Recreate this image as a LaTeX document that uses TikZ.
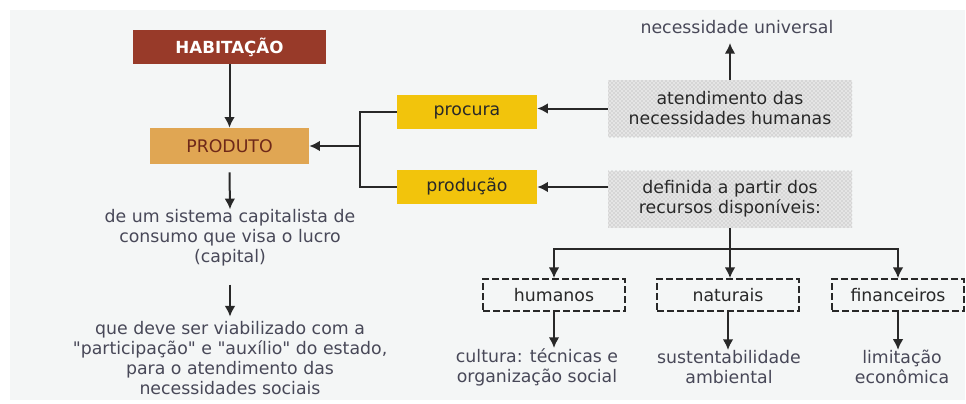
\documentclass[tikz,border=0pt]{standalone}
\usepackage{fontspec}
\setmainfont{DejaVu Sans}[Ligatures=TeXOff]
\usetikzlibrary{arrows.meta}
\usetikzlibrary{patterns}

\definecolor{habcor}{RGB}{152,58,41}
\definecolor{prodcor}{RGB}{224,166,83}
\definecolor{prodtexto}{RGB}{110,40,25}
\definecolor{amarelo}{RGB}{242,196,12}
\definecolor{fundo}{RGB}{244,246,246}
\definecolor{textocor}{RGB}{72,72,88}
\definecolor{setacor}{RGB}{40,40,40}

\tikzset{
  caixa/.style={inner sep=0pt, align=center, font=\fontsize{13}{15}\selectfont},
  texto/.style={caixa, text=textocor},
  pontos/.style={caixa, text=setacor, minimum width=183pt, minimum height=42.75pt,
    preaction={fill=gray!20}, pattern=crosshatch dots, pattern color=gray!70},
  tracejada/.style={caixa, text=setacor, minimum width=106.5pt, minimum height=24pt,
    draw=setacor, line width=1.3pt, dash pattern=on 5pt off 2.5pt},
  seta/.style={draw=setacor, line width=1.5pt, -{Latex[length=8pt,width=8pt]}},
  linha/.style={draw=setacor, line width=1.5pt}
}

\begin{document}
\begin{tikzpicture}[x=0.75pt,y=0.75pt,yscale=-1,xscale=1]
\useasboundingbox (0,0) rectangle (966,403);
%Background
\fill [fundo] (10,10) rectangle (965,400);

% Main boxes
\node [caixa, fill=habcor, text=white, font=\fontsize{12.5}{15}\selectfont\bfseries,
  minimum width=144.75pt, minimum height=25.5pt] (hab) at (229.5,47) {HABITAÇÃO};
\node [caixa, fill=prodcor, text=prodtexto, minimum width=119.25pt, minimum height=27pt] (prod) at (229.5,146) {PRODUTO};
\node [caixa, fill=amarelo, text=setacor, minimum width=105pt, minimum height=25.5pt] (procura) at (467,112) {procura};
\node [caixa, fill=amarelo, text=setacor, minimum width=105pt, minimum height=25.5pt] (producao) at (467,187) {produção};
\node [pontos] (atend) at (730,108.5) {atendimento das\\necessidades humanas};
\node [pontos] (defin) at (730,199) {definida a partir dos\\recursos disponíveis:};

% Text Node
\node [texto] (univ) at (737,27) {necessidade universal};
% Text Node
\node [texto] (capital) at (230,238) {de um sistema capitalista de\\consumo que visa o lucro\\(capital)};
% Text Node
\node [texto] (estado) at (230,358) {que deve ser viabilizado com a\\"participação" e "auxílio" do estado,\\para o atendimento das\\necessidades sociais};

% Resource boxes
\node [tracejada] (humanos) at (554,295) {humanos};
\node [tracejada] (naturais) at (728,295) {naturais};
\node [tracejada, minimum width=99pt] (financ) at (898,295) {financeiros};

% Text Node
\node [texto] (cultura) at (537,367) {cultura: técnicas e\\organização social};
% Text Node
\node [texto] (sustent) at (729,367) {sustentabilidade\\ambiental};
% Text Node
\node [texto] (limite) at (902,367) {limitação\\econômica};

% Connectors
\coordinate (junta) at (360,146);
\coordinate (ramo) at (730,249);
\coordinate (topo) at (730,43);
\draw [seta] (hab) -- (prod);
\draw [linha] (procura.west) -| (junta) |- (producao.west);
\draw [seta] (junta) -- (prod.east);
\draw [seta] (atend.west) -- (procura.east |- atend.west);
\draw [seta] (defin.west |- producao.east) -- (producao.east);
\draw [seta] (atend.north) -- (topo);
\draw [seta] (prod.south) ++(0,8) -- (capital.north);
\draw [seta] (capital.south) ++(0,18) -- ++(0,32);
\draw [linha] (defin.south) -- (ramo);
\draw [seta] (ramo) -| (humanos.north);
\draw [seta] (ramo) -- (naturais.north -| ramo);
\draw [seta] (ramo) -| (financ.north);
\draw [seta] (humanos.south) -- (humanos.south |- cultura.north);
\draw [seta] (naturais.south) -- (naturais.south |- sustent.north);
\draw [seta] (financ.south) -- (financ.south |- limite.north);

\end{tikzpicture}
\end{document}
